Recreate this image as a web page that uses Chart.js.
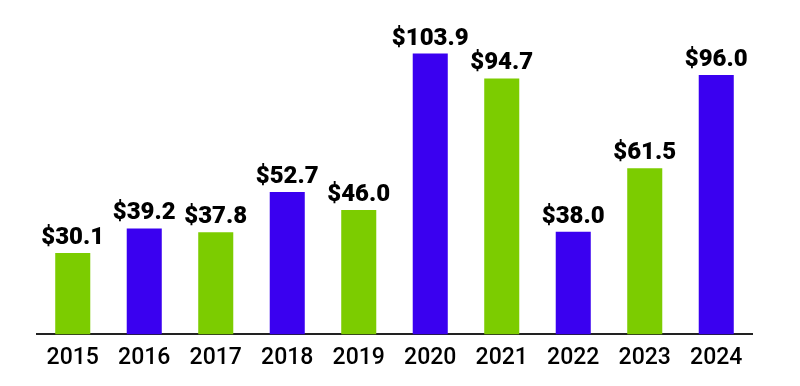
<!DOCTYPE html>
<html><head><meta charset="utf-8">
<script src="https://cdn.jsdelivr.net/npm/chart.js@4"></script>
<style>html,body{margin:0;padding:0;background:#fff}#w{width:800px;height:386px}</style>
</head><body><div id="w"><canvas id="c"></canvas></div>
<script>
const categories = ["2015","2016","2017","2018","2019","2020","2021","2022","2023","2024"];
const values = [30.1,39.2,37.8,52.7,46.0,103.9,94.7,38.0,61.5,96.0];
const labels = ["$30.1","$39.2","$37.8","$52.7","$46.0","$103.9","$94.7","$38.0","$61.5","$96.0"];
const GREEN = "#7ccc00", BLUE = "#3a00f0";
const colors = ["g","b","g","b","g","b","g","b","g","b"].map(k => k === "g" ? GREEN : BLUE);

const valueLabels = {
  id: "valueLabels",
  afterDatasetsDraw(chart) {
    const ctx = chart.ctx;
    const meta = chart.getDatasetMeta(0);
    ctx.save();
    ctx.fillStyle = "#000";
    ctx.font = "900 24px 'Roboto'";
    ctx.textAlign = "center";
    ctx.textBaseline = "alphabetic";
    meta.data.forEach((bar, i) => {
      ctx.fillText(labels[i], bar.x, bar.y - 9);
    });
    ctx.restore();
  }
};

new Chart(document.getElementById("c"), {
  type: "bar",
  data: { labels: categories, datasets: [{ data: values, backgroundColor: colors, borderWidth: 0, barPercentage: 0.7, categoryPercentage: 0.7 }] },
  options: {
    responsive: true, maintainAspectRatio: false, animation: false,
    layout: { padding: { left: 37, right: 48, top: 10, bottom: 12 } },
    plugins: { legend: { display: false }, tooltip: { enabled: false } },
    scales: {
      y: { display: false, min: 0, max: 120 },
      x: {
        grid: { display: false },
        border: { display: true, color: "#222", width: 2 },
        ticks: { color: "#000", font: { family: "Roboto", size: 23, weight: "500" }, padding: 2 }
      }
    }
  },
  plugins: [valueLabels]
});
</script></body></html>
